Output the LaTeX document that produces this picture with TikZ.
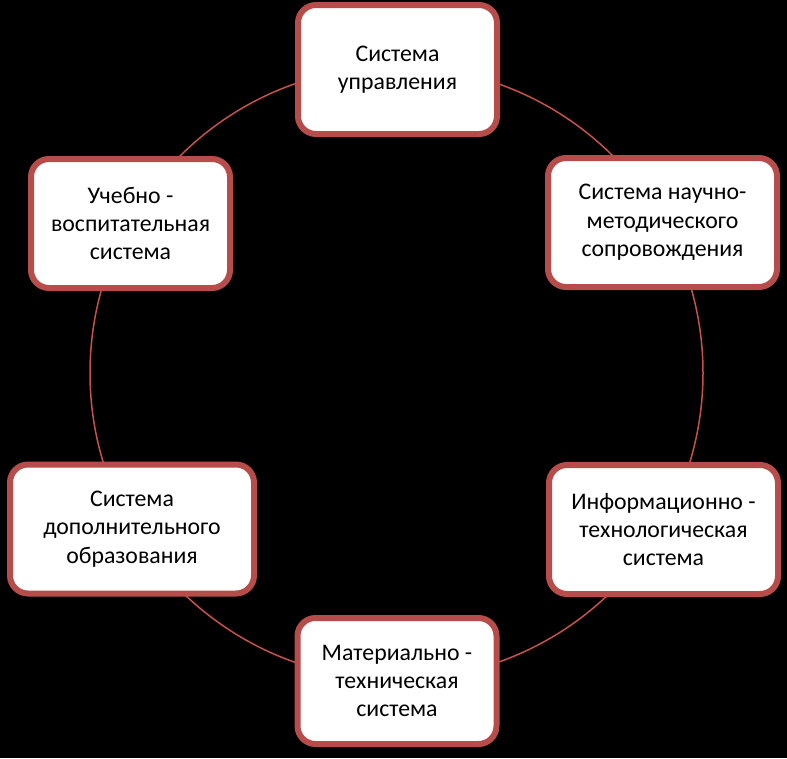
\documentclass[tikz,border=0pt]{standalone}
\usepackage{fontspec}
\setmainfont{Carlito}
\usepackage{tikz}
\usetikzlibrary{positioning}
\definecolor{boxred}{RGB}{182,77,74}
\definecolor{ringred}{RGB}{200,80,77}
\tikzset{sbox/.style={rectangle,draw=boxred,line width=6pt,fill=white,rounded corners=18pt,
		 align=center,text=black,inner sep=0pt,minimum height=129pt,
		 font=\fontsize{23.8}{28.3}\selectfont},
	 nbox/.style={sbox,minimum width=199pt},
	 wbox/.style={sbox,minimum width=229pt},
	 ring/.style={draw=ringred,line width=1.5pt}
	 }

\begin{document}
\begin{tikzpicture}[x=1pt,y=-1pt]% structure circle
        \fill[black] (0,0) rectangle (787,758);
        \useasboundingbox (0,0) rectangle (787,758);
        \coordinate (c) at (396.5,373);
        \draw[ring] (c) circle (306.5pt);
        \node[nbox] (upr) at (397.5,69.5) {Система\\управления};
        \node[wbox] (nms) at (662.5,222.5) {Система научно-\\методического\\сопровождения};
        \node[wbox] (its) at (663.5,529.5) {Информационно -\\технологическая\\система};
        \node[nbox] (mts) at (397,681) [minimum height=126pt] {Материально -\\техническая\\система};
        \node[sbox] (dop) at (132,529) [minimum width=244pt] {Система\\дополнительного\\образования};
        \node[nbox] (uvs) at (130.5,223.5) {Учебно -\\воспитательная\\система};
\end{tikzpicture}
\end{document}
